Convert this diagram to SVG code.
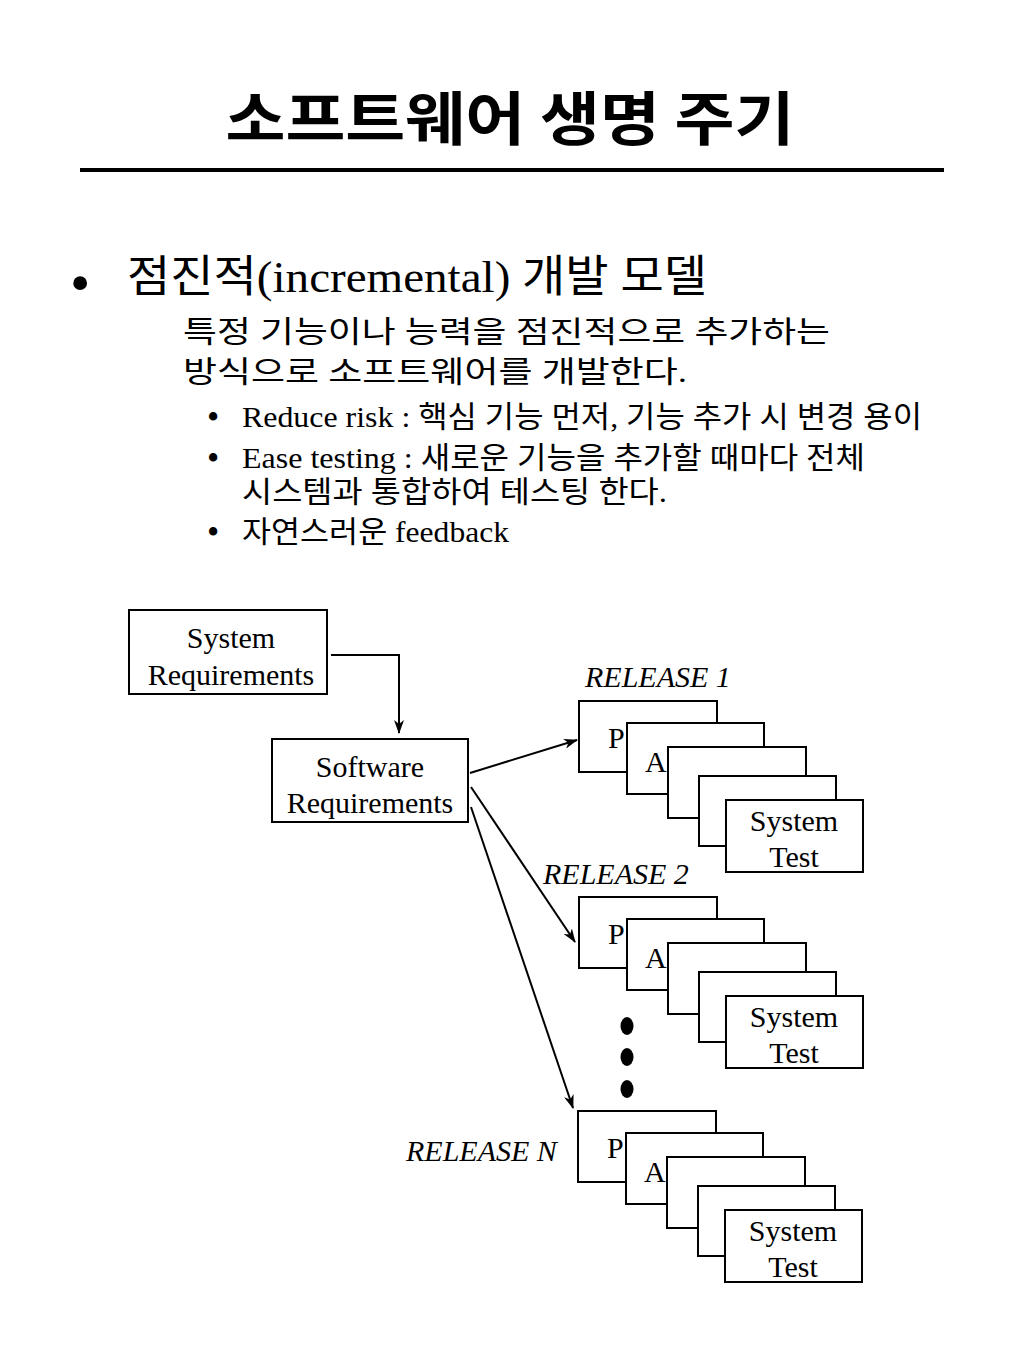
<svg xmlns="http://www.w3.org/2000/svg" width="1024" height="1365" viewBox="0 0 1024 1365">
<style>
.t{font-family:"Liberation Serif","Noto Sans CJK KR",serif;fill:#000}
.b{fill:#fff;stroke:#000;stroke-width:2}
.bx{font-family:"Liberation Serif","Noto Sans CJK KR",serif;font-size:30px;fill:#000}
.rl{font-family:"Liberation Serif",serif;font-size:30px;font-style:italic;fill:#000}
.c{fill:none;stroke:#000;stroke-width:2}
</style>
<defs>
<marker id="ah" viewBox="0 0 14 10" refX="13" refY="5" markerWidth="14" markerHeight="10" markerUnits="userSpaceOnUse" orient="auto">
<path d="M0,0 L14,5 L0,10 L4,5 z" fill="#000"/>
</marker>
<g id="stack">
<rect class="b" x="579" y="701" width="138" height="71"/>
<text class="bx" x="608" y="748">P</text>
<rect class="b" x="627" y="723" width="137" height="71"/>
<text class="bx" x="645" y="772">A</text>
<rect class="b" x="668" y="747" width="138" height="71"/>
<rect class="b" x="699" y="776" width="137" height="70"/>
<rect class="b" x="726" y="800" width="137" height="72"/>
<text class="bx" x="794" y="831" text-anchor="middle">System</text>
<text class="bx" x="794" y="867" text-anchor="middle">Test</text>
</g>
</defs>
<rect width="1024" height="1365" fill="#fff"/>
<g id="title">
<text x="510" y="140" text-anchor="middle" font-family="'Noto Sans CJK KR',sans-serif" font-weight="bold" font-size="58" textLength="569" lengthAdjust="spacingAndGlyphs">소프트웨어 생명 주기</text>
<rect x="80" y="168" width="864" height="4" fill="#000"/>
</g>
<g id="body-text" class="t">
<text x="70" y="302" font-size="58">•</text>
<text x="127" y="292" font-size="44" textLength="580" lengthAdjust="spacingAndGlyphs">점진적(incremental) 개발 모델</text>
<text x="183" y="342" font-size="30" textLength="647" lengthAdjust="spacingAndGlyphs">특정 기능이나 능력을 점진적으로 추가하는</text>
<text x="183" y="382" font-size="30" textLength="504" lengthAdjust="spacingAndGlyphs">방식으로 소프트웨어를 개발한다.</text>
<text x="207" y="429" font-size="35">•</text>
<text x="242" y="427" font-size="30" textLength="680" lengthAdjust="spacingAndGlyphs">Reduce risk : 핵심 기능 먼저, 기능 추가 시 변경 용이</text>
<text x="207" y="470" font-size="35">•</text>
<text x="242" y="468" font-size="30" textLength="623" lengthAdjust="spacingAndGlyphs">Ease testing : 새로운 기능을 추가할 때마다 전체</text>
<text x="242" y="502" font-size="30" textLength="425" lengthAdjust="spacingAndGlyphs">시스템과 통합하여 테스팅 한다.</text>
<text x="207" y="544" font-size="35">•</text>
<text x="242" y="542" font-size="30" textLength="267" lengthAdjust="spacingAndGlyphs">자연스러운 feedback</text>
</g>
<g id="connectors">
<polyline class="c" points="331,655 399,655 399,733" marker-end="url(#ah)"/>
<line class="c" x1="470" y1="773" x2="577" y2="740" marker-end="url(#ah)"/>
<line class="c" x1="471" y1="787" x2="575" y2="942" marker-end="url(#ah)"/>
<line class="c" x1="471" y1="807" x2="573" y2="1108" marker-end="url(#ah)"/>
</g>
<g id="system-requirements">
<rect class="b" x="129" y="610" width="198" height="84"/>
<text class="bx" x="231" y="648" text-anchor="middle">System</text>
<text class="bx" x="231" y="685" text-anchor="middle">Requirements</text>
</g>
<g id="software-requirements">
<rect class="b" x="272" y="739" width="196" height="83"/>
<text class="bx" x="370" y="777" text-anchor="middle">Software</text>
<text class="bx" x="370" y="813" text-anchor="middle">Requirements</text>
</g>
<g id="release-1">
<text class="rl" x="585" y="687">RELEASE 1</text>
<use href="#stack"/>
</g>
<g id="release-2">
<text class="rl" x="543" y="884">RELEASE 2</text>
<use href="#stack" transform="translate(0,196)"/>
</g>
<g id="ellipsis">
<ellipse cx="627" cy="1026" rx="6.5" ry="9" fill="#000"/>
<ellipse cx="627" cy="1057" rx="6.5" ry="9" fill="#000"/>
<ellipse cx="627" cy="1089" rx="6.5" ry="9" fill="#000"/>
</g>
<g id="release-n">
<text class="rl" x="406" y="1161">RELEASE N</text>
<use href="#stack" transform="translate(-1,410)"/>
</g>
</svg>
